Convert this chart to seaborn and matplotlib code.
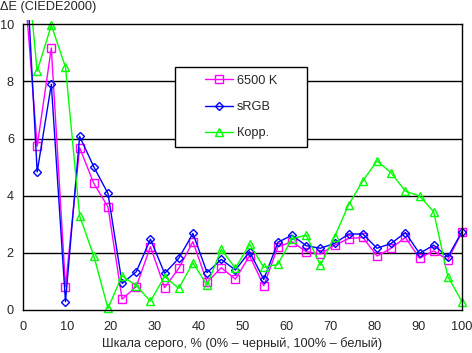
import numpy as np
import matplotlib
matplotlib.use("Agg")
import matplotlib.pyplot as plt
import seaborn as sns
from matplotlib.patches import Rectangle

# ---- data ----
x_vals = [i * 100 / 31 for i in range(32)]
k6500 = [12.1, 5.73, 9.17, 0.82, 5.68, 4.43, 3.61, 0.38, 0.82, 2.22, 0.78, 1.46, 2.39, 0.97, 1.48, 1.08,
         1.90, 0.85, 2.21, 2.39, 2.04, 1.96, 2.27, 2.50, 2.54, 1.89, 2.16, 2.54, 1.81, 2.07, 1.75, 2.74]
srgb = [14.3, 4.83, 7.90, 0.29, 6.08, 5.01, 4.08, 0.93, 1.34, 2.48, 1.28, 1.81, 2.68, 1.31, 1.77, 1.40,
        2.04, 1.07, 2.37, 2.62, 2.25, 2.16, 2.33, 2.66, 2.66, 2.16, 2.33, 2.71, 1.98, 2.27, 1.86, 2.74]
korr = [13.6, 8.36, 9.97, 8.50, 3.29, 1.89, 0.06, 1.20, 0.85, 0.31, 1.17, 0.76, 1.65, 0.87, 2.12, 1.46,
        2.31, 1.49, 1.60, 2.50, 2.62, 1.57, 2.56, 3.69, 4.52, 5.22, 4.80, 4.16, 3.99, 3.44, 1.17, 0.29]
series_names = ["6500 K", "sRGB", "Корр."]
x_ticks = [0, 10, 20, 30, 40, 50, 60, 70, 80, 90, 100]
y_ticks = [0, 2, 4, 6, 8, 10]

sns.set_style("white")
plt.rcParams['font.family'] = ['Liberation Sans', 'DejaVu Sans']
FS = 9.2

W, H = 472, 353
fig = plt.figure(figsize=(W / 100, H / 100), dpi=100)
L, R, T, B = 23, 462, 24.3, 310
ax = fig.add_axes([L / W, 1 - B / H, (R - L) / W, (B - T) / H])

styles = [
    (k6500, "#FF00FF", "s", 5.2),
    (srgb, "#0000FF", "D", 4.5),
    (korr, "#00FF00", "^", 6.2),
]
clip = Rectangle((-0.02, -0.03), 1.04, 1.045, transform=ax.transAxes, visible=False)
ax.add_patch(clip)
for (vals, col, mk, ms), name in zip(styles, series_names):
    n0 = len(ax.lines)
    sns.lineplot(x=x_vals, y=vals, ax=ax, color=col, marker=mk, markersize=ms,
                 markerfacecolor="none", markeredgecolor=col, markeredgewidth=1.0,
                 linewidth=1.0, label=name, legend=False)
    for ln in ax.lines[n0:]:
        ln.set_clip_path(clip)

ax.set_xlim(0, 100)
ax.set_ylim(0, 10)
ax.set_xticks(x_ticks)
ax.set_yticks(y_ticks)
ax.set_xticklabels([str(v) for v in x_ticks], fontsize=FS)
ax.set_yticklabels([str(v) for v in y_ticks], fontsize=FS)
ax.tick_params(axis='x', length=0, pad=8.2)
ax.tick_params(axis='y', length=0, pad=6.5)
for yv in y_ticks[1:-1]:
    ax.axhline(yv, color="black", linewidth=1.0, zorder=0.5)
for sp in ax.spines.values():
    sp.set_visible(True)
    sp.set_color("black")
    sp.set_linewidth(1.0)
ax.set_xlabel("Шкала серого, % (0% – черный, 100% – белый)", fontsize=FS, labelpad=2.5)
ax.set_ylabel("")
fig.text(0 / W, 1 - 9.8 / H, "ΔE (CIEDE2000)", fontsize=FS, ha="left", va="baseline")

# legend box
bx0, by0, bx1, by1 = 175, 67, 307, 147
fig.patches.append(Rectangle((bx0 / W, 1 - by1 / H), (bx1 - bx0) / W, (by1 - by0) / H,
                             transform=fig.transFigure, facecolor="white", edgecolor="black",
                             linewidth=1.0, zorder=5))
handles, labels = ax.get_legend_handles_labels()
leg = fig.legend(handles, labels, loc="center",
                 bbox_to_anchor=((bx0 + bx1) / 2 / W, 1 - (by0 + by1) / 2 / H),
                 frameon=False, fontsize=FS, handlelength=2.2, handletextpad=0.3,
                 labelspacing=1.1, borderpad=0)
leg.set_zorder(6)

fig.savefig("out.png", dpi=100)
